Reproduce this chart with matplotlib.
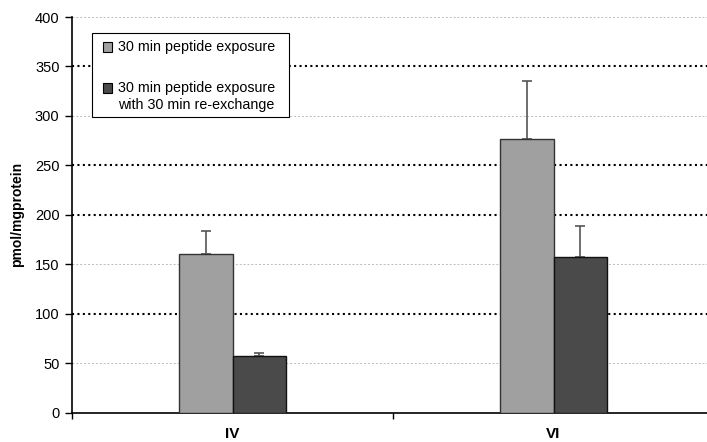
import matplotlib
matplotlib.use("Agg")
import matplotlib.pyplot as plt
from matplotlib.patches import Rectangle
import numpy as np

plt.rcParams['font.family'] = ['Liberation Sans', 'DejaVu Sans']

categories = ["IV", "VI"]
series_names = ["30 min peptide exposure", "30 min peptide exposure\nwith 30 min re-exchange"]
exposure = [160, 277]
exposure_err = [24, 58]
reexchange = [57, 157]
reexchange_err = [3, 32]
colors = ["#A0A0A0", "#4A4A4A"]
dark_grid = [100, 200, 250, 350]
light_grid = [50, 150, 300, 400]

W, H = 707, 442
fig = plt.figure(figsize=(W/100, H/100), dpi=100)
# axes extends slightly past the right edge as in the reference
ax = fig.add_axes([72/W, 1 - 412.7/H, (714-72)/W, (412.7-17)/H])

x = np.arange(len(categories))
w = 0.166
ax.bar(x - w/2, exposure, w, color=colors[0], edgecolor="#333333", linewidth=1.0, zorder=3)
ax.bar(x + w/2, reexchange, w, color=colors[1], edgecolor="#111111", linewidth=1.0, zorder=3)
ax.errorbar(x - w/2, exposure, yerr=[np.zeros(len(x)), exposure_err], fmt="none",
            ecolor="#555555", elinewidth=1.2, capsize=3.5, capthick=1.2, zorder=2)
ax.errorbar(x + w/2, reexchange, yerr=[np.zeros(len(x)), reexchange_err], fmt="none",
            ecolor="#555555", elinewidth=1.2, capsize=3.5, capthick=1.2, zorder=2)

for g in dark_grid:
    ax.axhline(g, color="black", linestyle=(0, (1.0, 1.6)), linewidth=1.5, zorder=1)
for g in light_grid:
    ax.axhline(g, color="#BBBBBB", linestyle=(0, (2, 2)), linewidth=0.7, zorder=1)

ax.set_xlim(-0.5, 1.5)
ax.set_ylim(0, 400)
ax.set_yticks(np.arange(0, 401, 50))
ax.tick_params(axis="y", labelsize=10.5, length=5, width=1, direction="out", pad=4)
ax.set_xticks([-0.5, 0.5, 1.5])
ax.set_xticklabels([])
ax.tick_params(axis="x", length=4, width=1, direction="out")
for xi, c in zip(x, categories):
    ax.text(xi, -21.5, c, ha="center", va="center", fontsize=11, fontweight="bold")
ax.set_ylabel("pmol/mgprotein", fontsize=10, fontweight="bold", labelpad=8)

for s in ["top", "right"]:
    ax.spines[s].set_visible(False)
ax.spines["left"].set_linewidth(1.2)
ax.spines["bottom"].set_linewidth(1.2)

# legend drawn manually (frame, square markers, left-aligned multi-line labels)
def fx(px):
    return px / W

def fy(py):
    return 1 - py / H

fig.patches.append(Rectangle((fx(92), fy(117)), fx(289) - fx(92), fy(33) - fy(117),
                             transform=fig.transFigure, facecolor="white",
                             edgecolor="black", linewidth=0.8, zorder=5))
entry_y = [47, 88]
for (ey, col, name) in zip(entry_y, colors, series_names):
    fig.patches.append(Rectangle((fx(103), fy(ey + 4.5)), fx(112) - fx(103), fy(ey - 4.5) - fy(ey + 4.5),
                                 transform=fig.transFigure, facecolor=col,
                                 edgecolor="black", linewidth=0.8, zorder=6))
    for k, line in enumerate(name.split("\n")):
        fig.text(fx(118.5), fy(ey + 17 * k), line, ha="left", va="center",
                 fontsize=10.3, zorder=6)

fig.savefig("out.png", dpi=100)
